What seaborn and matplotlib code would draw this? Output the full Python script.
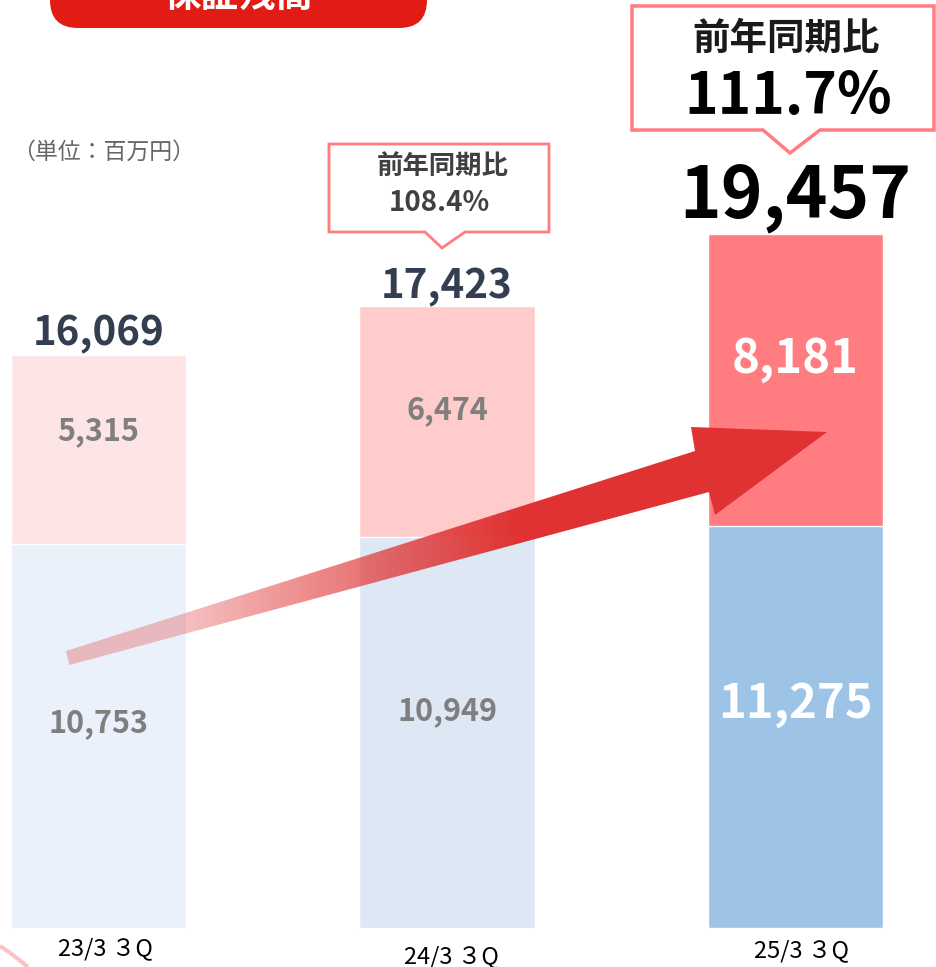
import numpy as np
import seaborn as sns
import matplotlib.pyplot as plt
from matplotlib.patches import Polygon, FancyBboxPatch
from matplotlib.colors import to_rgb

periods = ['23/3 ３Q', '24/3 ３Q', '25/3 ３Q']
lower = [10753, 10949, 11275]
upper = [5315, 6474, 8181]
totals = [16069, 17423, 19457]
yoy_labels = ['', '108.4%', '111.7%']

blue_colors = ['#EAF1FA', '#DDE8F4', '#9DC3E6']
pink_colors = ['#FDE5E5', '#FFCCCC', '#FF7C80']

sns.set_style('white')
plt.rcParams['font.family'] = ['Noto Sans CJK JP', 'DejaVu Sans']

W, H = 936, 967
fig = plt.figure(figsize=(W / 100, H / 100), dpi=100)
ax = fig.add_axes([0, 0, 1, 1])

sns.barplot(x=periods, y=totals, hue=periods, palette=pink_colors, width=0.503,
            saturation=1, legend=False, ax=ax)
sns.barplot(x=periods, y=lower, hue=periods, palette=blue_colors, width=0.503,
            saturation=1, legend=False, ax=ax)
ax.set_xlim(-0.2826, 2.403)
ax.set_ylim(-1108, 26022)
ax.axis('off')

# segment labels
inner_col = ['#7F7F7F', '#7F7F7F', 'white']
inner_fs = [22, 22, 34]
up_off = [18, 12, 21]
lo_off = [13, 21, 23]
for i in range(3):
    ax.annotate(f'{upper[i]:,}', (i, lower[i] + upper[i] / 2), xytext=(0, up_off[i]),
                textcoords='offset pixels', ha='center', va='center',
                fontsize=inner_fs[i], fontweight='bold', color=inner_col[i])
    ax.annotate(f'{lower[i]:,}', (i, lower[i] / 2), xytext=(0, lo_off[i]),
                textcoords='offset pixels', ha='center', va='center',
                fontsize=inner_fs[i], fontweight='bold', color=inner_col[i])

# totals
tot_col = ['#333F50', '#333F50', 'black']
tot_fs = [29, 29, 51]
tot_off = [21, 20, 37]
for i in range(3):
    ax.annotate(f'{totals[i]:,}', (i, totals[i]), xytext=(0, tot_off[i]),
                textcoords='offset pixels', ha='center', va='center',
                fontsize=tot_fs[i], fontweight='bold', color=tot_col[i])

# overlay in pixel coordinates for decorations
ov = fig.add_axes([0, 0, 1, 1])
ov.set_xlim(0, W)
ov.set_ylim(H, 0)
ov.axis('off')

# growth arrow with gradient
arrow_pts = [(66, 651), (695, 451), (691, 427), (827, 432), (715, 515), (709, 492), (69.5, 665)]
arrow = Polygon(arrow_pts, closed=True, facecolor='none', edgecolor='none')
ov.add_patch(arrow)
xs = np.linspace(60, 830, 400)
alpha = np.clip(0.3 + 0.7 * (xs - 180) / (520 - 180), 0.3, 1.0)
grad = np.zeros((1, len(xs), 4))
grad[0, :, :3] = to_rgb('#E03232')
grad[0, :, 3] = alpha
img = ov.imshow(grad, extent=(60, 830, 680, 415), aspect='auto', interpolation='bilinear')
img.set_clip_path(arrow)
ov.set_xlim(0, W)
ov.set_ylim(H, 0)

# title box (cut off at top)
ov.add_patch(FancyBboxPatch((50, -60), 377, 88,
                            boxstyle='round,pad=0,rounding_size=28',
                            facecolor='#E21C14', edgecolor='none', zorder=2))
ov.text(238, -5, '保証残高', ha='center', va='center', fontsize=27,
        fontweight='bold', color='white', zorder=3)

# unit label
ov.text(12, 152, '（単位：百万円）', ha='left', va='center', fontsize=16.5, color='#666666')

# callouts
c2 = [(329, 144), (549, 144), (549, 232), (465, 232), (442, 248), (425, 232), (329, 232)]
ov.add_patch(Polygon(c2, closed=True, facecolor='white', edgecolor='#FF7C80', linewidth=2))
ov.text(443, 166, '前年同期比', ha='center', va='center', fontsize=19,
        fontweight='bold', color='#404040')
ov.text(439, 203, yoy_labels[1], ha='center', va='center', fontsize=20,
        fontweight='bold', color='#404040')

c3 = [(632, 6), (934, 6), (934, 130), (820, 130), (790, 153), (763, 130), (632, 130)]
ov.add_patch(Polygon(c3, closed=True, facecolor='white', edgecolor='#FF7C80', linewidth=2.5))
ov.text(786, 38, '前年同期比', ha='center', va='center', fontsize=27,
        fontweight='bold', color='#1A1A1A')
ov.text(788, 97, yoy_labels[2], ha='center', va='center', fontsize=41,
        fontweight='bold', color='black')

# category labels
cat_x = [105, 451, 802]
cat_y = [949, 957, 951]
for i in range(3):
    ov.text(cat_x[i], cat_y[i], periods[i], ha='center', va='center', fontsize=17,
            color='black', family=['Liberation Sans Narrow', 'Noto Sans CJK JP'])

# faint arc at bottom-left corner
ov.plot([0, 9, 18, 28], [946, 952, 959, 967], color='#F7C4C4', linewidth=3,
        solid_capstyle='butt')

fig.savefig('out.png', dpi=100)
